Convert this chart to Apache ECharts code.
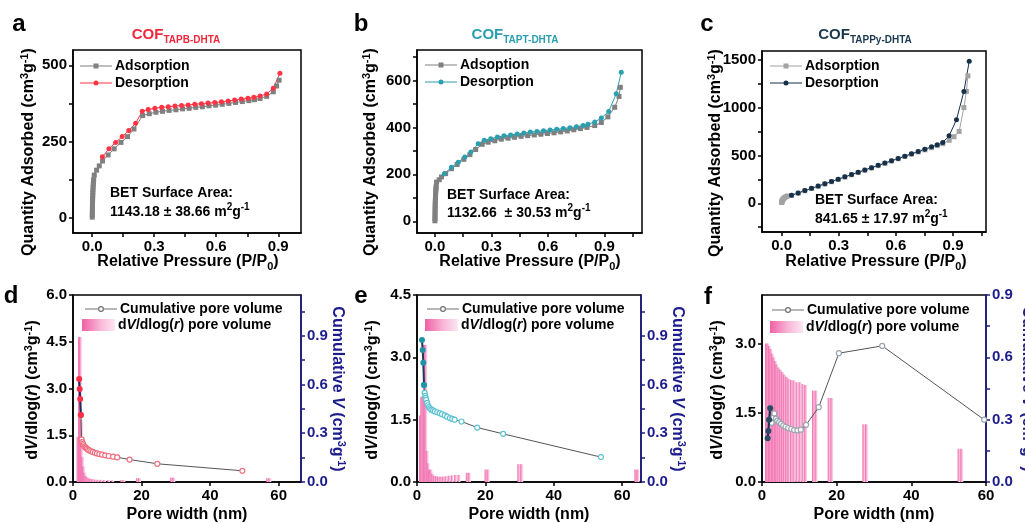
<!DOCTYPE html>
<html>
<head>
<meta charset="utf-8">
<script src="https://cdn.jsdelivr.net/npm/echarts@6/dist/echarts.min.js"></script>
<style>
  html, body { margin: 0; padding: 0; background: #fff; }
  #chart { width: 1025px; height: 523px; }
</style>
</head>
<body>
<div id="chart"></div>
<script>
const FONT = '"Liberation Sans", Arial, Helvetica, sans-serif';

// ---- N2 isotherms: [P/P0, quantity adsorbed (cm3/g)] ----
const adsA = [[0.0002,2],[0.0004,10],[0.0006,19],[0.0008,28],[0.001,37],[0.0013,46],[0.0016,55],[0.002,64],[0.0025,73],[0.003,82],[0.0036,91],[0.0043,100],[0.005,109],[0.006,117],[0.007,125],[0.010,140],[0.021,156],[0.034,170],[0.05,186],[0.077,206],[0.106,226],[0.139,247],[0.171,266],[0.202,291],[0.244,335],[0.276,341],[0.308,346],[0.34,349],[0.372,352],[0.405,354],[0.437,357],[0.469,359],[0.501,362],[0.533,364],[0.565,367],[0.597,369],[0.629,372],[0.661,375],[0.693,378],[0.726,381],[0.758,384],[0.785,387],[0.812,391],[0.844,398],[0.876,413],[0.892,432],[0.904,451]];
const desA = [[0.049,200],[0.081,226],[0.113,247],[0.145,266],[0.177,286],[0.21,310],[0.242,349],[0.271,355],[0.303,359],[0.336,362],[0.368,364],[0.4,366],[0.432,368],[0.464,370],[0.496,372],[0.528,374],[0.56,376],[0.593,378],[0.625,380],[0.657,383],[0.689,386],[0.721,389],[0.753,392],[0.782,395],[0.812,399],[0.844,406],[0.876,425],[0.908,474]];

const adsB = [[0.0002,2],[0.0004,12],[0.0006,23],[0.0008,34],[0.001,45],[0.0013,56],[0.0016,67],[0.002,78],[0.0025,89],[0.003,100],[0.0036,111],[0.0043,122],[0.005,133],[0.006,142],[0.007,150],[0.009,167],[0.023,177],[0.035,189],[0.057,203],[0.088,224],[0.118,242],[0.154,264],[0.186,284],[0.217,306],[0.251,328],[0.283,337],[0.318,343],[0.353,350],[0.388,354],[0.423,358],[0.458,362],[0.493,365],[0.528,368],[0.563,371],[0.598,374],[0.633,377],[0.668,381],[0.703,385],[0.738,390],[0.773,395],[0.808,400],[0.849,408],[0.884,421],[0.919,445],[0.955,486],[0.978,532],[0.985,571]];
const desB = [[0.05,203],[0.088,230],[0.124,252],[0.159,274],[0.191,295],[0.23,330],[0.262,345],[0.297,352],[0.332,359],[0.367,364],[0.402,368],[0.437,372],[0.472,376],[0.507,380],[0.542,383],[0.577,386],[0.612,389],[0.647,392],[0.682,395],[0.717,399],[0.752,403],[0.787,408],[0.813,414],[0.849,423],[0.884,440],[0.923,468],[0.963,543],[0.99,635]];

const adsC = [[0.0005,8],[0.001,15],[0.002,22],[0.004,30],[0.006,38],[0.009,46],[0.013,54],[0.018,62],[0.024,70],[0.031,76],[0.052,82],[0.087,105],[0.122,130],[0.157,154],[0.192,177],[0.227,201],[0.262,225],[0.297,249],[0.332,273],[0.367,297],[0.402,321],[0.437,345],[0.472,369],[0.507,393],[0.542,417],[0.577,441],[0.612,465],[0.647,489],[0.682,513],[0.717,536],[0.752,558],[0.787,580],[0.817,602],[0.846,622],[0.88,658],[0.905,695],[0.932,750],[0.957,1000],[0.97,1168],[0.978,1330]];
const desC = [[0.052,84],[0.087,108],[0.122,133],[0.157,157],[0.192,180],[0.227,204],[0.262,228],[0.297,252],[0.332,276],[0.367,300],[0.402,324],[0.437,348],[0.472,372],[0.507,396],[0.542,420],[0.577,444],[0.612,468],[0.647,492],[0.682,516],[0.717,540],[0.752,565],[0.787,590],[0.817,612],[0.846,635],[0.879,704],[0.918,872],[0.957,1168],[0.985,1482]];

// ---- pore size distributions: [pore width (nm), dV/dlog(r)] ----
const psdD = [[1.5,1.45],[1.9,4.65],[2.2,4.65],[2.5,2.0],[2.8,0.8],[3.1,0.5],[3.4,0.3],[3.8,0.2],[4.2,0.15],[4.7,0.12],[5.2,0.1],[5.8,0.09],[6.5,0.08],[7.3,0.07],[8.2,0.07],[9.2,0.06],[10.4,0.06],[11.6,0.05],[14.2,0.06],[14.8,0.06],[18.8,0.12],[19.4,0.12],[28.8,0.14],[29.4,0.14],[56.8,0.12],[57.4,0.12]];
const psdE = [[1.0,1.6],[1.4,2.05],[1.8,2.05],[2.2,3.3],[2.6,3.3],[3.0,0.75],[3.3,0.45],[3.7,0.3],[4.1,0.3],[4.6,0.2],[5.1,0.15],[5.7,0.14],[6.3,0.13],[7.0,0.13],[7.7,0.13],[8.5,0.14],[9.4,0.15],[10.3,0.16],[11.3,0.17],[12.3,0.17],[14.7,0.22],[15.3,0.22],[20.2,0.3],[20.8,0.3],[29.8,0.43],[30.6,0.43],[64.0,0.3],[64.6,0.3]];
const psdF = [[1.2,3.0],[1.6,3.0],[2.0,2.95],[2.4,2.88],[2.8,2.78],[3.2,2.7],[3.6,2.62],[4.0,2.55],[4.5,2.48],[5.0,2.43],[5.5,2.38],[6.0,2.33],[6.6,2.28],[7.2,2.24],[7.9,2.21],[8.6,2.2],[9.4,2.16],[10.2,2.16],[11.0,2.12],[11.7,2.1],[13.8,1.98],[14.5,1.98],[18.0,1.82],[18.7,1.82],[27.3,1.25],[28.0,1.25],[52.8,0.72],[53.5,0.72]];

// ---- cumulative pore volume: [pore width (nm), V (cm3/g)] ----
const cumD = [[1.8,0.634],[1.95,0.572],[2.1,0.511],[2.3,0.412],[2.5,0.262],[2.7,0.245],[2.9,0.234],[3.1,0.226],[3.4,0.218],[3.7,0.211],[4.0,0.205],[4.4,0.199],[4.8,0.194],[5.3,0.189],[5.8,0.185],[6.4,0.18],[7.0,0.176],[7.7,0.172],[8.5,0.168],[9.4,0.164],[10.4,0.16],[11.7,0.156],[12.9,0.152],[16.5,0.138],[24.6,0.112],[49.4,0.069]];
const cumE = [[1.46,0.873],[1.66,0.811],[1.85,0.734],[2.05,0.596],[2.24,0.548],[2.4,0.53],[2.54,0.517],[2.7,0.505],[2.93,0.486],[3.2,0.472],[3.5,0.46],[3.85,0.452],[4.2,0.445],[4.7,0.44],[5.2,0.434],[5.9,0.429],[6.6,0.424],[7.3,0.417],[8.1,0.41],[8.8,0.402],[9.6,0.393],[10.3,0.388],[11.0,0.383],[13.0,0.372],[17.6,0.335],[25.2,0.296],[53.8,0.153]];
const cumF = [[1.5,0.21],[1.7,0.245],[1.9,0.3],[2.2,0.355],[2.6,0.285],[3.0,0.31],[3.3,0.33],[3.7,0.305],[4.1,0.295],[4.6,0.288],[5.1,0.28],[5.7,0.272],[6.3,0.266],[7.0,0.26],[7.8,0.255],[8.6,0.25],[9.5,0.248],[10.4,0.252],[11.8,0.275],[15.2,0.36],[20.6,0.62],[32.2,0.655],[59.5,0.3]];
// number of leading points drawn as the steep, filled segment
const headD = 4, headE = 4, headF = 4;

// ---- tick labels ----
const pTicks = [0, 0.3, 0.6, 0.9];
const pMinor = [0, 0.15, 0.3, 0.45, 0.6, 0.75, 0.9, 1.05];
const qTicksA = [0, 250, 500];
const qTicksB = [0, 200, 400, 600];
const qTicksC = [0, 500, 1000, 1500];
const wTicks = [0, 20, 40, 60];
const dvTicksD = [0, 1.5, 3.0, 4.5, 6.0];
const dvTicksE = [0, 1.5, 3.0, 4.5];
const dvTicksF = [0, 1.5, 3.0];
const cvTicks = [0, 0.3, 0.6, 0.9];
const cvMinor = [0, 0.15, 0.3, 0.45, 0.6, 0.75, 0.9, 1.05];

const NAVY = '#1c1c8c';
const grids = [
  { left: 73, top: 50, width: 228, height: 183 },
  { left: 417, top: 50, width: 225, height: 183 },
  { left: 762, top: 51, width: 224, height: 181 },
  { left: 73, top: 295, width: 228, height: 187 },
  { left: 417, top: 295, width: 224, height: 187 },
  { left: 762, top: 295, width: 224, height: 187 }
].map(g => Object.assign({ show: true, borderColor: '#000', borderWidth: 1.5, backgroundColor: 'transparent' }, g));

const fix1 = v => v.toFixed(1);
const int0 = v => String(Math.round(v));

function axis(grid, min, max, labels, ticks, fmt, opt) {
  opt = opt || {};
  const color = opt.color || '#000';
  return {
    type: 'value', gridIndex: grid, min: min, max: max,
    position: opt.position,
    axisLine: { show: true, onZero: false, lineStyle: { color: color, width: 1.5 } },
    axisTick: { show: true, inside: false, length: 4, customValues: ticks, lineStyle: { color: color, width: 1.5 } },
    axisLabel: { customValues: labels, formatter: fmt, color: color, fontFamily: FONT, fontSize: 15, fontWeight: 'bold', margin: 6 },
    splitLine: { show: false }
  };
}

const xAxis = [
  axis(0, -0.093, 1.01, pTicks, pMinor.filter(v => v <= 1.01), fix1),
  axis(1, -0.095, 1.1, pTicks, pMinor.filter(v => v <= 1.1), fix1),
  axis(2, -0.103, 1.073, pTicks, pMinor.filter(v => v <= 1.073), fix1),
  axis(3, 0, 66.5, wTicks, wTicks, int0),
  axis(4, 0, 65.5, wTicks, wTicks, int0),
  axis(5, 0, 60, wTicks, wTicks, int0)
];
const yAxis = [
  axis(0, -50, 550, qTicksA, [0, 125, 250, 375, 500], int0),
  axis(1, -50, 730, qTicksB, [0, 100, 200, 300, 400, 500, 600, 700], int0),
  axis(2, -300, 1590, qTicksC, [-250, 0, 250, 500, 750, 1000, 1250, 1500], int0),
  axis(3, 0, 6, dvTicksD, dvTicksD, fix1),
  axis(3, 0, 1.15, cvTicks, cvMinor, fix1, { position: 'right', color: NAVY }),
  axis(4, 0, 4.5, dvTicksE, dvTicksE, fix1),
  axis(4, 0, 1.15, cvTicks, cvMinor, fix1, { position: 'right', color: NAVY }),
  axis(5, 0, 4.05, dvTicksF, dvTicksF, fix1),
  axis(5, 0, 0.9, cvTicks, cvMinor.filter(v => v <= 0.9), fix1, { position: 'right', color: NAVY })
];

function iso(name, data, gi, color, symbol) {
  return {
    name: name, type: 'line', data: data, xAxisIndex: gi, yAxisIndex: gi,
    symbol: symbol, symbolSize: 5, showSymbol: true,
    lineStyle: { color: color, width: 1 },
    itemStyle: { color: color },
    z: 3
  };
}

const barFill = () => new echarts.graphic.LinearGradient(0, 0, 1, 0, [
  { offset: 0, color: '#f060a6' },
  { offset: 0.55, color: '#f8b6d7' },
  { offset: 1, color: '#fde6f2' }
]);

function psd(name, data, xi, yi) {
  return {
    name: name, type: 'bar', data: data, xAxisIndex: xi, yAxisIndex: yi,
    barWidth: 3, itemStyle: { color: barFill() }, z: 1
  };
}

function cum(name, data, head, xi, yi, ring, headFill, headLine) {
  return [
    {
      name: name, type: 'line', data: data.slice(head - 1), xAxisIndex: xi, yAxisIndex: yi,
      symbol: 'circle', symbolSize: 5, showSymbol: true,
      lineStyle: { color: '#555', width: 1 },
      itemStyle: { color: '#fff', borderColor: ring, borderWidth: 1.2 },
      z: 3
    },
    {
      name: name + '_head', type: 'line', data: data.slice(0, head), xAxisIndex: xi, yAxisIndex: yi,
      symbol: 'circle', symbolSize: 6, showSymbol: true,
      lineStyle: { color: headLine, width: 2 },
      itemStyle: { color: headFill },
      z: 4
    }
  ];
}

const series = [
  iso('adsA', adsA, 0, '#808080', 'rect'),
  iso('desA', desA, 0, '#ff3344', 'circle'),
  iso('adsB', adsB, 1, '#808080', 'rect'),
  iso('desB', desB, 1, '#2a9fb0', 'circle'),
  iso('adsC', adsC, 2, '#a3a3a3', 'rect'),
  iso('desC', desC, 2, '#15304a', 'circle'),
  psd('psdD', psdD, 3, 3),
  ...cum('cumD', cumD, headD, 3, 4, '#f07080', '#ff2d45', '#1d2a5c'),
  psd('psdE', psdE, 4, 5),
  ...cum('cumE', cumE, headE, 4, 6, '#5fc3d2', '#1f93a6', '#1d3a5c'),
  psd('psdF', psdF, 5, 7),
  ...cum('cumF', cumF, headF, 5, 8, '#9aa4ae', '#2a4a66', '#1d3050')
];

// legend glyphs: thin line with a small marker in the middle
const ICON_SQ = 'path://M0,1.9h32v1.2h-32z M13.5,0h5v5h-5z';
const ICON_CI = 'path://M0,1.9h32v1.2h-32z M13.5,2.5a2.5,2.5 0 1,1 5,0a2.5,2.5 0 1,1 -5,0z';
const ICON_RING = 'path://M0,2.4h13v1.2h-13z M19,2.4h13v1.2h-13z M13,3a3,3 0 1,0 6,0a3,3 0 1,0 -6,0z M14.2,3a1.8,1.8 0 1,1 3.6,0a1.8,1.8 0 1,1 -3.6,0z';

const legendText = {
  adsA: 'Adsorption', desA: 'Desorption',
  adsB: 'Adsoption', desB: 'Desorption',
  adsC: 'Adsorption', desC: 'Desorption',
  cumD: 'Cumulative pore volume', cumE: 'Cumulative pore volume', cumF: 'Cumulative pore volume',
  psdD: '{n|d}{i|V}{n|/dlog(}{i|r}{n|) pore volume}',
  psdE: '{n|d}{i|V}{n|/dlog(}{i|r}{n|) pore volume}',
  psdF: '{n|d}{i|V}{n|/dlog(}{i|r}{n|) pore volume}'
};
// [series, left, top, icon, icon height, icon colour override]
const legendPos = [
  ['adsA', 80, 59, ICON_SQ, 5], ['desA', 80, 76, ICON_CI, 5],
  ['adsB', 425, 58, ICON_SQ, 5], ['desB', 425, 75, ICON_CI, 5],
  ['adsC', 770, 59, ICON_SQ, 5], ['desC', 770, 76, ICON_CI, 5],
  ['cumD', 85, 302, ICON_RING, 6, '#707070'], ['psdD', 82, 318, 'rect', 12],
  ['cumE', 427, 302, ICON_RING, 6, '#707070'], ['psdE', 425, 318, 'rect', 12],
  ['cumF', 772, 303, ICON_RING, 6, '#707070'], ['psdF', 770, 320, 'rect', 12]
];
const legend = legendPos.map(([name, left, top, icon, h, color]) => ({
  data: [name], left: left, top: top, orient: 'vertical', padding: 0,
  selectedMode: false,
  icon: icon, itemWidth: icon === 'rect' ? 33 : 32, itemHeight: h,
  symbolKeepAspect: false,
  itemStyle: color ? { color: color, borderWidth: 0 } : { borderWidth: 0 },
  formatter: n => legendText[n],
  textStyle: {
    fontFamily: FONT, fontSize: 14, fontWeight: 'bold', color: '#000', padding: [0, 0, 0, -2],
    rich: {
      n: { fontFamily: FONT, fontSize: 14, fontWeight: 'bold', color: '#000' },
      i: { fontFamily: FONT, fontSize: 14, fontWeight: 'bold', fontStyle: 'italic', color: '#000' }
    }
  }
}));

// ---- text: panel letters, titles, axis names, annotations ----
function richStyles(color, size) {
  const base = { fontFamily: FONT, fontWeight: 'bold', fill: color, color: color };
  return {
    t: Object.assign({ fontSize: size, lineHeight: 20, verticalAlign: 'middle' }, base),
    it: Object.assign({ fontSize: size, lineHeight: 20, verticalAlign: 'middle', fontStyle: 'italic' }, base),
    sup: Object.assign({ fontSize: Math.round(size * 0.68), lineHeight: 13, verticalAlign: 'top' }, base),
    sub: Object.assign({ fontSize: Math.round(size * 0.68), lineHeight: 11, verticalAlign: 'bottom' }, base),
    m: Object.assign({ fontSize: 15, lineHeight: 20, verticalAlign: 'middle' }, base),
    s: Object.assign({ fontSize: 10, lineHeight: 10, verticalAlign: 'bottom' }, base)
  };
}
function txt(x, y, text, opt) {
  opt = opt || {};
  const color = opt.color || '#000';
  const size = opt.size || 16;
  return {
    type: 'text', x: x, y: y, rotation: opt.rot || 0, z: 10,
    style: {
      text: text, fill: color, fontFamily: FONT, fontWeight: 'bold', fontSize: size,
      align: opt.align || 'center', verticalAlign: 'middle',
      rich: richStyles(color, size)
    }
  };
}

const qName = '{t|Quantity Adsorbed (cm}{sup|3}{t|g}{sup|-1}{t|)}';
const pName = '{t|Relative Pressure (P/P}{sub|0}{t|)}';
const wName = '{t|Pore width (nm)}';
const dvName = '{t|d}{it|V}{t|/dlog(}{it|r}{t|) (cm}{sup|3}{t|g}{sup|-1}{t|)}';
const cvName = '{t|Cumulative }{it|V}{t| (cm}{sup|3}{t|g}{sup|-1}{t|)}';

const graphic = [
  txt(19, 24, 'a', { size: 24 }), txt(361, 24, 'b', { size: 24 }), txt(707, 24, 'c', { size: 24 }),
  txt(11, 296, 'd', { size: 24 }), txt(361, 296, 'e', { size: 24 }), txt(708, 297, 'f', { size: 24 }),

  txt(176, 35, '{m|COF}{s|TAPB-DHTA}', { color: '#f0283c' }),
  txt(515, 35, '{m|COF}{s|TAPT-DHTA}', { color: '#2a9fb0' }),
  txt(865, 35, '{m|COF}{s|TAPPy-DHTA}', { color: '#1b3850' }),

  txt(29, 152, qName, { rot: Math.PI / 2 }),
  txt(371, 152, qName, { rot: Math.PI / 2 }),
  txt(716, 153, qName, { rot: Math.PI / 2 }),
  txt(188, 262, pName), txt(530, 262, pName), txt(876, 262, pName),

  txt(110, 193, '{t|BET Surface Area:}', { size: 14, align: 'left' }),
  txt(110, 212, '{t|1143.18 ± 38.66 m}{sup|2}{t|g}{sup|-1}', { size: 14, align: 'left' }),
  txt(447, 195, '{t|BET Surface Area:}', { size: 14, align: 'left' }),
  txt(447, 213, '{t|1132.66  ± 30.53 m}{sup|2}{t|g}{sup|-1}', { size: 14, align: 'left' }),
  txt(815, 200, '{t|BET Surface Area:}', { size: 14, align: 'left' }),
  txt(815, 219, '{t|841.65 ± 17.97 m}{sup|2}{t|g}{sup|-1}', { size: 14, align: 'left' }),

  txt(33, 390, dvName, { rot: Math.PI / 2 }),
  txt(373, 390, dvName, { rot: Math.PI / 2 }),
  txt(718, 390, dvName, { rot: Math.PI / 2 }),
  txt(337, 389, cvName, { rot: -Math.PI / 2, color: NAVY }),
  txt(677, 389, cvName, { rot: -Math.PI / 2, color: NAVY }),
  txt(1027, 389, cvName, { rot: -Math.PI / 2, color: NAVY }),
  txt(187, 515, wName), txt(529, 515, wName), txt(874, 515, wName)
];

const chart = echarts.init(document.getElementById('chart'), null, { renderer: 'canvas' });
chart.setOption({
  animation: false,
  backgroundColor: '#fff',
  textStyle: { fontFamily: FONT },
  grid: grids,
  xAxis: xAxis,
  yAxis: yAxis,
  legend: legend,
  series: series,
  graphic: graphic
});
</script>
</body>
</html>
